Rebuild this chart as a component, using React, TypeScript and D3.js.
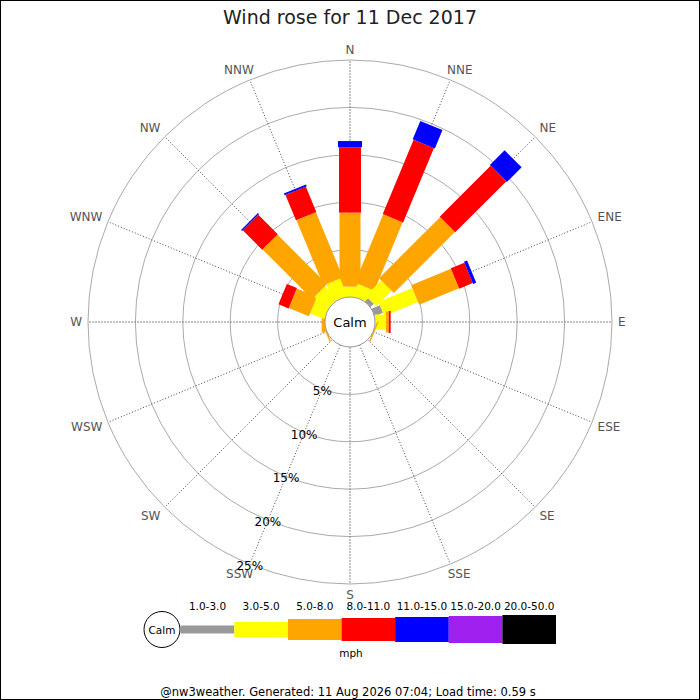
import * as d3 from "d3"

// wind rose data, percentages per direction (N clockwise) and speed class
const title = "Wind rose for 11 Dec 2017"
const directions = ["N", "NNE", "NE", "ENE", "E", "ESE", "SE", "SSE", "S", "SSW", "SW", "WSW", "W", "WNW", "NW", "NNW"]
const speedBins = ["1.0-3.0", "3.0-5.0", "5.0-8.0", "8.0-11.0", "11.0-15.0", "15.0-20.0", "20.0-50.0"]

const bin1to3 = [0, 0, 0.5, 0.95, 0, 0, 0, 0, 0, 0, 0, 0, 0, 0, 0, 0]
const bin3to5 = [1.1, 1.4, 2.3, 3.85, 1.15, 0, 0, 0, 0, 0, 0, 0, 0, 1.6, 1.9, 2.0]
const bin5to8 = [7.8, 7.8, 9.1, 4.55, 0.3, 0.15, 0, 0, 0, 0, 0, 0.15, 0.35, 2.3, 7.4, 7.45]
const bin8to11 = [6.9, 8.5, 7.6, 1.55, 0.2, 0, 0, 0, 0, 0, 0, 0, 0, 1.15, 2.9, 2.9]
const bin11to15 = [0.65, 2.1, 2.2, 0.35, 0, 0, 0, 0, 0, 0, 0, 0, 0, 0, 0.15, 0.2]
const bin15to20 = [0, 0, 0, 0, 0, 0, 0, 0, 0, 0, 0, 0, 0, 0, 0, 0]
const bin20to50 = [0, 0, 0, 0, 0, 0, 0, 0, 0, 0, 0, 0, 0, 0, 0, 0]
const binValues = [bin1to3, bin3to5, bin5to8, bin8to11, bin11to15, bin15to20, bin20to50]

const ringTicks = [5, 10, 15, 20, 25]
const calmLabel = "Calm"
const unitLabel = "mph"
const footer = "@nw3weather. Generated: 11 Aug 2026 07:04; Load time: 0.59 s"

// styles
const binColors = ["#999999", "#ffff00", "#ffa500", "#ff0000", "#0000ff", "#a020f0", "#000000"]
const binWidths = [8, 15, 21, 22, 24, 26, 28]
const legendHeights = [8, 15, 21, 23, 25, 27, 29]
const font = "DejaVu Sans"

const charW: Record<string, number> = { N: 0.748, E: 0.632, S: 0.635, W: 0.989 }
const textWidth = (s: string, size: number) => s.split("").reduce((a, c) => a + (charW[c] || 0.6), 0) * size

export default function App() {
  const width = 700
  const height = 700
  const cx = 350
  const cy = 322

  const r = d3.scaleLinear().domain([0, 25]).range([25, 262])
  const angle = d3.scaleLinear().domain([0, directions.length]).range([0, 360])
  const legendX = d3.scaleBand().domain(speedBins).range([180.7, 556])
  const legendY = 629.5

  const clamp = (v: number) => Math.max(-1, Math.min(1, v))
  const polar = (deg: number, rad: number): [number, number] => {
    const a = (deg * Math.PI) / 180
    return [cx + rad * Math.sin(a), cy - rad * Math.cos(a)]
  }

  return (
    <div style={{ position: "absolute", left: 0, top: 0 }}>
      <svg width={width} height={height} style={{ display: "block", background: "#fff" }} fontFamily={font}>
        <rect x={0.5} y={0.5} width={width - 1} height={height - 1} fill="#fff" stroke="#000" />
        <text x={cx} y={23.5} textAnchor="middle" fontSize={19} fill="#222">
          {title}
        </text>

        {/* rings */}
        {ringTicks.map((t) => (
          <circle key={t} cx={cx} cy={cy} r={r(t)} fill="none" stroke="#aaaaaa" strokeWidth={1} />
        ))}

        {/* radial axes */}
        {directions.map((d, i) => {
          const [x1, y1] = polar(angle(i), r(0))
          const [x2, y2] = polar(angle(i), r(25))
          const cardinal = i % 4 === 0
          return (
            <line
              key={d}
              x1={x1}
              y1={y1}
              x2={x2}
              y2={y2}
              stroke={cardinal ? "#888" : "#444"}
              strokeWidth={1}
              strokeDasharray={cardinal ? "2,1" : "1,2"}
            />
          )
        })}

        {/* bars */}
        {directions.map((d, i) => {
          const values = binValues.map((b) => b[i])
          const cum = [0, ...d3.cumsum(values)]
          return (
            <g key={d} transform={`translate(${cx},${cy}) rotate(${angle(i)})`}>
              {values.map((v, k) =>
                v > 0 ? (
                  <rect
                    key={k}
                    x={-binWidths[k] / 2}
                    y={-r(cum[k + 1])}
                    width={binWidths[k]}
                    height={r(cum[k + 1]) - r(cum[k])}
                    fill={binColors[k]}
                  />
                ) : null
              )}
            </g>
          )
        })}

        {/* calm circle */}
        <circle cx={cx} cy={cy} r={r(0)} fill="#fff" stroke="#999" strokeWidth={1} />
        <text x={cx} y={cy + 0.5} textAnchor="middle" dominantBaseline="central" fontSize={13} fill="#000">
          {calmLabel}
        </text>

        {/* compass labels */}
        {directions.map((d, i) => {
          const deg = angle(i)
          const a = (deg * Math.PI) / 180
          const [px, py] = polar(deg, 268)
          const w = textWidth(d, 12)
          const x = px + (w / 2) * clamp(Math.sin(a) * 1.5)
          const y = py - 4.5 * clamp(Math.cos(a) * 1.5)
          return (
            <text key={d} x={x} y={y} textAnchor="middle" dominantBaseline="central" fontSize={12} fill="#555">
              {d}
            </text>
          )
        })}

        {/* ring labels */}
        {ringTicks.map((t) => {
          const [x, y] = polar(202.5, r(t))
          return (
            <text key={t} x={x} y={y + 2} textAnchor="middle" dominantBaseline="central" fontSize={12} fill="#000">
              {`${t}%`}
            </text>
          )
        })}

        {/* legend */}
        <circle cx={162} cy={legendY} r={18} fill="#fff" stroke="#000" strokeWidth={1} />
        <text x={162} y={legendY} textAnchor="middle" dominantBaseline="central" fontSize={10.5} fill="#000">
          {calmLabel}
        </text>
        {speedBins.map((b, k) => (
          <g key={b}>
            <rect
              x={legendX(b)}
              y={legendY - legendHeights[k] / 2}
              width={legendX.bandwidth()}
              height={legendHeights[k]}
              fill={binColors[k]}
            />
            <text
              x={(legendX(b) || 0) + legendX.bandwidth() / 2}
              y={610}
              textAnchor="middle"
              fontSize={10.5}
              fill="#000"
            >
              {b}
            </text>
          </g>
        ))}
        <text x={351} y={657} textAnchor="middle" fontSize={10.5} fill="#000">
          {unitLabel}
        </text>

        <text x={348} y={696} textAnchor="middle" fontSize={11.5} fill="#000">
          {footer}
        </text>
      </svg>
    </div>
  )
}
